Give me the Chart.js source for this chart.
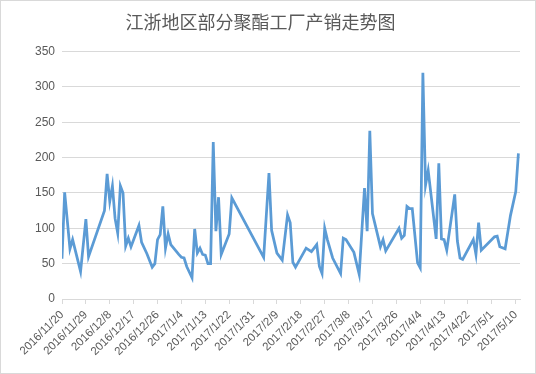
<!DOCTYPE html>
<html>
<head>
<meta charset="utf-8">
<script src="https://cdn.jsdelivr.net/npm/chart.js@4/dist/chart.umd.min.js"></script>
<style>
    body { margin: 0; background: #fff; }
    #wrap { width: 536px; height: 374px; box-sizing: border-box; border: 1px solid #d9d9d9; }
    #wrap canvas { display: block; }
</style>
</head>
<body>
<div id="wrap"><canvas id="chart" width="534" height="372"></canvas></div>
<script>
const chartTitle = '江浙地区部分聚酯工厂产销走势图';
const startDate = '2016/11/20';

const dates = [
    '2016/11/20', '2016/11/21', '2016/11/23', '2016/11/24', '2016/11/27', '2016/11/29', '2016/11/30',
    '2016/12/6', '2016/12/7', '2016/12/8', '2016/12/9', '2016/12/10', '2016/12/11', '2016/12/12',
    '2016/12/13', '2016/12/14', '2016/12/15', '2016/12/16', '2016/12/19', '2016/12/20', '2016/12/22',
    '2016/12/24', '2016/12/25', '2016/12/26', '2016/12/27', '2016/12/28', '2016/12/29', '2016/12/30',
    '2016/12/31', '2017/1/3', '2017/1/4', '2017/1/5', '2017/1/6', '2017/1/8', '2017/1/9',
    '2017/1/10', '2017/1/11', '2017/1/12', '2017/1/13', '2017/1/14', '2017/1/15', '2017/1/16',
    '2017/1/17', '2017/1/18', '2017/1/19', '2017/1/22', '2017/1/23', '2017/2/4', '2017/2/6',
    '2017/2/7', '2017/2/9', '2017/2/11', '2017/2/13', '2017/2/14', '2017/2/15', '2017/2/16',
    '2017/2/20', '2017/2/22', '2017/2/24', '2017/2/25', '2017/2/26', '2017/2/27', '2017/2/28',
    '2017/3/2', '2017/3/5', '2017/3/6', '2017/3/7', '2017/3/10', '2017/3/12', '2017/3/14',
    '2017/3/15', '2017/3/16', '2017/3/17', '2017/3/20', '2017/3/21', '2017/3/22', '2017/3/27',
    '2017/3/28', '2017/3/29', '2017/3/30', '2017/3/31', '2017/4/1', '2017/4/3', '2017/4/4',
    '2017/4/5', '2017/4/6', '2017/4/7', '2017/4/10', '2017/4/11', '2017/4/12', '2017/4/13',
    '2017/4/14', '2017/4/17', '2017/4/18', '2017/4/19', '2017/4/20', '2017/4/24', '2017/4/25',
    '2017/4/26', '2017/4/27', '2017/5/2', '2017/5/3', '2017/5/4', '2017/5/6', '2017/5/8',
    '2017/5/10', '2017/5/11'
];

const values = [
    57, 151, 71, 84, 39, 113, 60,
    125, 177, 138, 160, 114, 93, 160,
    150, 75, 86, 74, 104, 80, 64,
    45, 50, 84, 91, 131, 72, 92,
    77, 63, 59, 58, 46, 30, 99,
    65, 72, 63, 62, 50, 50, 222,
    96, 144, 63, 92, 143, 59, 178,
    97, 65, 55, 119, 108, 52, 45,
    72, 67, 77, 46, 36, 100, 84,
    58, 36, 86, 84, 66, 35, 157,
    96, 238, 121, 74, 84, 68, 100,
    86, 90, 131, 128, 128, 51, 44,
    320, 161, 182, 85, 192, 85, 84,
    69, 148, 82, 58, 56, 84, 63,
    108, 69, 88, 89, 74, 71, 118,
    152, 206
];

const tickDates = [
    '2016/11/20', '2016/11/29', '2016/12/8', '2016/12/17', '2016/12/26', '2017/1/4', '2017/1/13',
    '2017/1/22', '2017/1/31', '2017/2/9', '2017/2/18', '2017/2/27', '2017/3/8', '2017/3/17',
    '2017/3/26', '2017/4/4', '2017/4/13', '2017/4/22', '2017/5/1', '2017/5/10'
];
const yTicks = [0, 50, 100, 150, 200, 250, 300, 350];

// days since the first date
function dayOf(str) {
    const [y, m, d] = str.split('/').map(Number);
    const [y0, m0, d0] = startDate.split('/').map(Number);
    return Math.round((Date.UTC(y, m - 1, d) - Date.UTC(y0, m0 - 1, d0)) / 86400000);
}

const tickDays = tickDates.map(dayOf);
const points = dates.map((d, i) => ({ x: dayOf(d), y: values[i] }));

const textColor = '#595959';
const gridColor = '#d9d9d9';

new Chart(document.getElementById('chart').getContext('2d'), {
    type: 'line',
    data: {
        datasets: [{
            label: chartTitle,
            data: points,
            borderColor: '#5B9BD5',
            borderWidth: 2.75,
            pointRadius: 0,
            tension: 0,
            fill: false
        }]
    },
    options: {
        responsive: false,
        animation: false,
        layout: { padding: { top: 0, right: 15, bottom: 0, left: 0 } },
        plugins: {
            legend: { display: false },
            tooltip: { enabled: false },
            title: {
                display: true,
                text: chartTitle,
                color: textColor,
                font: { family: '"Noto Sans CJK SC", sans-serif', size: 18, weight: 'normal' },
                padding: { top: 10, bottom: 19 }
            }
        },
        scales: {
            x: {
                type: 'linear',
                min: 0,
                max: 172.6,
                afterBuildTicks: axis => { axis.ticks = tickDays.map(v => ({ value: v })); },
                afterFit: axis => { axis.height = 74; },
                ticks: {
                    autoSkip: false,
                    minRotation: 45,
                    maxRotation: 45,
                    padding: 4,
                    color: textColor,
                    font: { family: '"Liberation Sans", Arial, sans-serif', size: 11.5 },
                    callback: function(value) {
                        const i = tickDays.indexOf(value);
                        return i >= 0 ? tickDates[i] : '';
                    }
                },
                grid: { drawOnChartArea: false, drawTicks: true, tickLength: 5, color: gridColor },
                border: { display: true, color: gridColor, width: 1 }
            },
            y: {
                min: 0,
                max: 350,
                afterBuildTicks: axis => { axis.ticks = yTicks.map(v => ({ value: v })); },
                afterFit: axis => { axis.width = 61; },
                ticks: {
                    padding: 7,
                    color: textColor,
                    font: { family: '"Liberation Sans", Arial, sans-serif', size: 12 }
                },
                grid: { color: gridColor, drawTicks: false },
                border: { display: false }
            }
        }
    }
});
</script>
</body>
</html>
